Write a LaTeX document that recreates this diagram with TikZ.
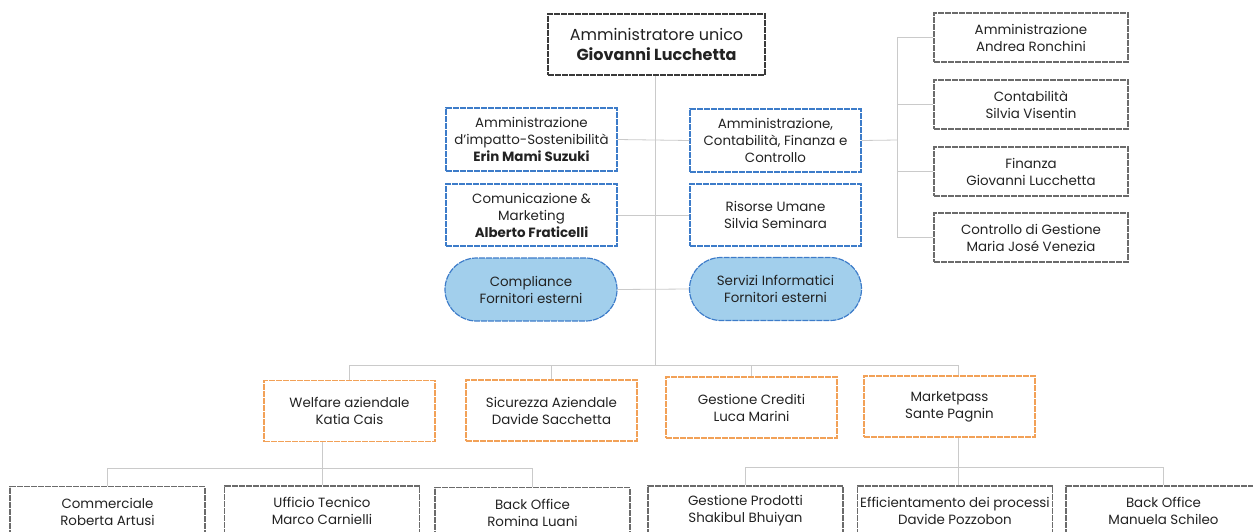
\documentclass[tikz,border=0pt]{standalone}
\usepackage{fontspec}
\setmainfont{Poppins}
\usetikzlibrary{shapes.misc}
\definecolor{bluebd}{HTML}{3D7CC9}
\definecolor{orangebd}{HTML}{F2A157}
\definecolor{graybd}{HTML}{6B6B6B}
\definecolor{darkbd}{HTML}{3A3A3A}
\definecolor{connc}{HTML}{CACACA}
\definecolor{pillfill}{HTML}{A2CFEC}
\definecolor{txt}{HTML}{222222}
\tikzset{
  conn/.style={draw=connc, line width=0.8pt},
  box/.style={rectangle, line width=1.2pt, dash pattern=on 6pt off 1pt, align=center,
    text=txt, font=\fontsize{13.4}{17}\selectfont, inner sep=0pt},
  topbox/.style={box, draw=darkbd, line width=1.6pt, minimum width=217pt, minimum height=61pt,
    font=\fontsize{16}{20}\selectfont},
  bluebox/.style={box, draw=bluebd, minimum width=171pt, minimum height=63pt},
  pill/.style={box, rounded rectangle, draw=bluebd, fill=pillfill, minimum width=172pt, minimum height=63pt},
  graybox/.style={box, draw=graybd, minimum width=194pt, minimum height=49pt},
  orangebox/.style={box, draw=orangebd, minimum width=171pt, minimum height=61pt},
  botbox/.style={box, draw=graybd, minimum width=195pt, minimum height=50pt},
}
\begin{document}
\begin{tikzpicture}[x=1pt,y=-1pt]
\useasboundingbox (0,0) rectangle (1253,531);
\clip (0,0) rectangle (1253,531);
% nodes
\node[topbox] (top) at (656.5,44.5) {Amministratore unico\\\textbf{Giovanni Lucchetta}};
\node[bluebox] (b1) at (531.5,139.5) {Amministrazione\\d'impatto-Sostenibilità\\\textbf{Erin Mami Suzuki}};
\node[bluebox] (b2) at (775.5,140.5) {Amministrazione,\\Contabilità, Finanza e\\Controllo};
\node[bluebox, minimum height=62pt] (b3) at (531.5,215) {Comunicazione \&\\Marketing\\\textbf{Alberto Fraticelli}};
\node[bluebox, minimum height=62pt] (b4) at (775.5,215) {Risorse Umane\\Silvia Seminara};
\node[pill] (p1) at (531,289.5) {Compliance\\Fornitori esterni};
\node[pill] (p2) at (775.5,289) {Servizi Informatici\\Fornitori esterni};
\node[graybox] (r1) at (1031,37.5) {Amministrazione\\Andrea Ronchini};
\node[graybox] (r2) at (1031,104.5) {Contabilità\\Silvia Visentin};
\node[graybox] (r3) at (1031,171.5) {Finanza\\Giovanni Lucchetta};
\node[graybox] (r4) at (1031,237.5) {Controllo di Gestione\\Maria José Venezia};
\node[orangebox] (o1) at (349.5,411) {Welfare aziendale\\Katia Cais};
\node[orangebox] (o2) at (551.5,410.5) {Sicurezza Aziendale\\Davide Sacchetta};
\node[orangebox] (o3) at (751.5,407.5) {Gestione Crediti\\Luca Marini};
\node[orangebox] (o4) at (949.5,406.5) {Marketpass\\Sante Pagnin};
\node[botbox] (c1) at (107.5,511.5) {Commerciale\\Roberta Artusi};
\node[botbox] (c2) at (322,511) {Ufficio Tecnico\\Marco Carnielli};
\node[botbox] (c3) at (532.5,512.5) {Back Office\\Romina Luani};
\node[botbox] (d1) at (745.5,511) {Gestione Prodotti\\Shakibul Bhuiyan};
\node[botbox] (d2) at (955,511) {Efficientamento dei processi\\Davide Pozzobon};
\node[botbox] (d3) at (1163.5,511) {Back Office\\Manuela Schileo};
% coordinates
\coordinate (bar) at (655,365);
\coordinate (barL) at (349.5,365);
\coordinate (barR) at (958,365);
\coordinate (rj) at (897,140);
\coordinate (lbar) at (322,468);
\coordinate (rbar) at (958,467);
% connectors
\draw[conn] (top.south -| bar) -- (bar);
\draw[conn] (b1.east) -- (b2.west);
\draw[conn] (b3.east) -- (b4.west);
\draw[conn] (p1.east) -- (p2.west);
\draw[conn] (b2.east) -- (rj);
\draw[conn] (r1.west) -- (rj |- r1.west) -- (rj |- r4.west) -- (r4.west);
\draw[conn] (rj |- r2.west) -- (r2.west);
\draw[conn] (rj |- r3.west) -- (r3.west);
\draw[conn] (o1.north) -- (barL) -- (barR) -- (barR |- o4.north);
\draw[conn] (o2.north |- bar) -- (o2.north);
\draw[conn] (o3.north |- bar) -- (o3.north);
\draw[conn] (o1.south -| lbar) -- (lbar);
\draw[conn] (c1.north) -- (c1.north |- lbar) -- (c3.north |- lbar) -- (c3.north);
\draw[conn] (lbar) -- (c2.north);
\draw[conn] (o4.south -| rbar) -- (rbar);
\draw[conn] (d1.north) -- (d1.north |- rbar) -- (d3.north |- rbar) -- (d3.north);
\draw[conn] (rbar) -- (rbar |- d2.north);
\end{tikzpicture}
\end{document}
